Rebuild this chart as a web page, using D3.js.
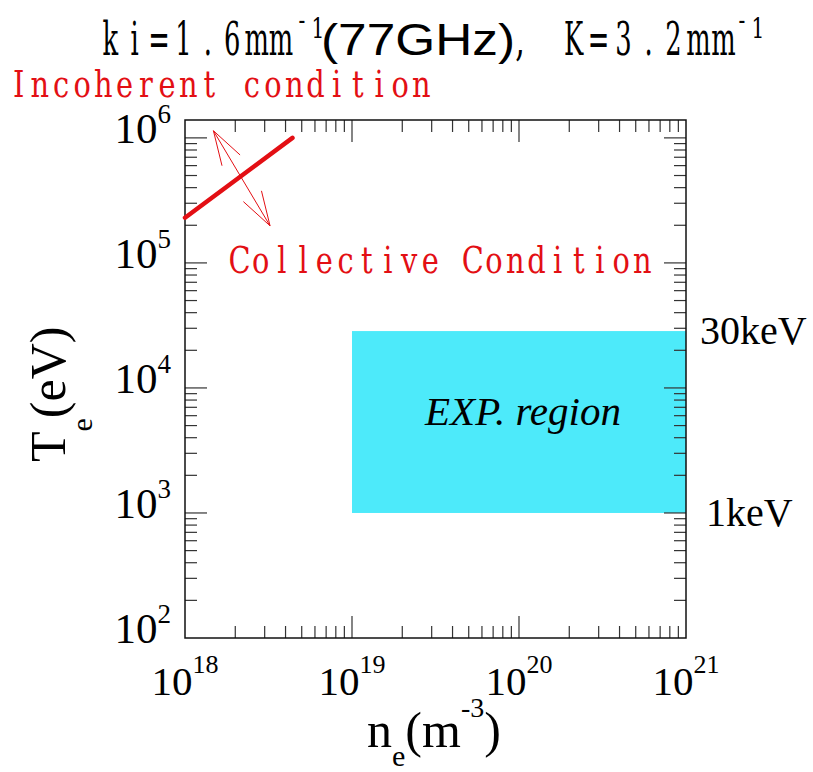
<!DOCTYPE html>
<html><head><meta charset="utf-8">
<script src="https://cdn.jsdelivr.net/npm/d3@7/dist/d3.min.js"></script>
<style>body{margin:0;background:#fff}</style>
</head><body>
<svg id="c" width="813" height="772"></svg>
<script>
// ---- data ----
const xDomain = [1e18, 1e21];
const yDomain = [1e2, 1.39e6];
const xMajorTicks = [1e18, 1e19, 1e20, 1e21];
const xTickExps = ["18", "19", "20", "21"];
const yMajorTicks = [1e2, 1e3, 1e4, 1e5, 1e6];
const yTickExps = ["2", "3", "4", "5", "6"];
const boundaryLine = [[1e18, 2.3e5], [4.4e18, 1.0e6]];
const arrowEnds = [[1.48e18, 1.14e6], [3.23e18, 1.98e5]];
const expN = [1e19, 1e21];
const expT = [1e3, 2.85e4];
const rightLabelValues = [2.85e4, 1e3];
const rightLabelTexts = ["30keV", "1keV"];

// ---- layout ----
const L = 185, R = 686, T = 120, B = 638;
const RED = "#e30f14", CYAN = "#4deafa";
const SERIF = "'Liberation Serif','Times New Roman',serif";
const MINCHO = "'DejaVu Serif','Liberation Serif',serif";
const SANS = "'Liberation Sans',Arial,sans-serif";

const svg = d3.select("#c");
const x = d3.scaleLog().domain(xDomain).range([L, R]);
const y = d3.scaleLog().domain(yDomain).range([B, T]);

// EXP region
svg.append("rect")
  .attr("x", x(expN[0])).attr("y", y(expT[1]))
  .attr("width", x(expN[1]) - x(expN[0])).attr("height", y(expT[0]) - y(expT[1]))
  .attr("fill", CYAN);

// ticks
const isMajor = v => Math.abs(Math.log10(v) - Math.round(Math.log10(v))) < 1e-9;
const tg = svg.append("g").attr("stroke", "#333").attr("stroke-width", 1.2);
x.ticks().forEach(v => {
  const px = x(v);
  if (px <= L + 0.5 || px >= R - 0.5) return;
  const len = isMajor(v) ? 22 : 12;
  tg.append("line").attr("x1", px).attr("x2", px).attr("y1", B).attr("y2", B - len);
  tg.append("line").attr("x1", px).attr("x2", px).attr("y1", T).attr("y2", T + len);
});
y.ticks().forEach(v => {
  const py = y(v);
  if (py >= B - 0.5 || py <= T + 0.5) return;
  const len = isMajor(v) ? 22 : 12;
  tg.append("line").attr("y1", py).attr("y2", py).attr("x1", L).attr("x2", L + len);
  tg.append("line").attr("y1", py).attr("y2", py).attr("x1", R).attr("x2", R - len);
});

// frame
svg.append("rect").attr("x", L).attr("y", T).attr("width", R - L).attr("height", B - T)
  .attr("fill", "none").attr("stroke", "#111").attr("stroke-width", 1.5);

// tick labels
yMajorTicks.forEach((v, i) => {
  const t = svg.append("text").attr("x", 171).attr("y", y(v) + 5)
    .attr("text-anchor", "end").style("font-family", SERIF).style("font-size", "43px").attr("fill", "#000");
  t.append("tspan").text("10");
  t.append("tspan").attr("dy", -20).style("font-size", "27px").text(yTickExps[i]);
});
xMajorTicks.forEach((v, i) => {
  const t = svg.append("text").attr("x", x(v)).attr("y", 695)
    .attr("text-anchor", "middle").style("font-family", SERIF).style("font-size", "41px").attr("fill", "#000");
  t.append("tspan").text("10");
  t.append("tspan").attr("dy", -22).style("font-size", "26px").text(xTickExps[i]);
});

// axis titles
const xt = svg.append("text").attr("x", 367).attr("y", 747)
  .style("font-family", SERIF).style("font-size", "50px").attr("fill", "#000");
xt.append("tspan").text("n");
xt.append("tspan").attr("dy", 19).style("font-size", "30px").text("e");
xt.append("tspan").attr("dy", -19).text("(m");
xt.append("tspan").attr("dy", -30).style("font-size", "28px").text("-3");
xt.append("tspan").attr("dy", 30).text(")");

const yt = svg.append("text").attr("transform", "translate(65,462) rotate(-90)")
  .style("font-family", SERIF).style("font-size", "50px").attr("fill", "#000");
yt.append("tspan").text("T");
yt.append("tspan").attr("dy", 27).style("font-size", "30px").text("e");
yt.append("tspan").attr("dy", -27).text("(eV)");

// right labels
rightLabelValues.forEach((v, i) => {
  svg.append("text").attr("x", i === 0 ? 700 : 706).attr("y", y(v) + 13)
    .style("font-family", SERIF).style("font-size", "40px").attr("fill", "#000")
    .text(rightLabelTexts[i]);
});

// EXP label
svg.append("text").attr("x", (x(expN[0]) + x(expN[1])) / 2 + 4).attr("y", 425)
  .attr("text-anchor", "middle").style("font-family", SERIF).style("font-style", "italic")
  .style("font-size", "41px").attr("fill", "#000").text("EXP. region");

// boundary line
const line = d3.line().x(d => x(d[0])).y(d => y(d[1]));
svg.append("path").datum(boundaryLine).attr("d", line)
  .attr("fill", "none").attr("stroke", RED).attr("stroke-width", 4.5).attr("stroke-linecap", "round");

// double arrow
const p0 = [x(arrowEnds[0][0]), y(arrowEnds[0][1])];
const p1 = [x(arrowEnds[1][0]), y(arrowEnds[1][1])];
const ag = svg.append("g").attr("stroke", RED).attr("stroke-width", 1).attr("fill", "none");
ag.append("line").attr("x1", p0[0]).attr("y1", p0[1]).attr("x2", p1[0]).attr("y2", p1[1]);
function head(tip, from) {
  const a = Math.atan2(from[1] - tip[1], from[0] - tip[0]);
  const len = 36, da = 17 * Math.PI / 180;
  [a - da, a + da].forEach(b => {
    ag.append("line").attr("x1", tip[0]).attr("y1", tip[1])
      .attr("x2", tip[0] + len * Math.cos(b)).attr("y2", tip[1] + len * Math.sin(b));
  });
}
head(p0, p1); head(p1, p0);

// fixed-pitch serif text (mincho-like)
function pitched(str, x0, pitch, baseline, fs, sx, fill, dys) {
  const xs = [...str].map((c, i) => ((x0 + (i + 0.5) * pitch) / sx).toFixed(2));
  const t = svg.append("text")
    .attr("transform", `translate(0,${baseline}) scale(${sx},1)`)
    .attr("x", xs.join(" ")).attr("y", 0)
    .attr("text-anchor", "middle")
    .style("font-family", MINCHO).style("font-size", fs + "px").attr("fill", fill)
    .text(str);
  if (dys) t.attr("dy", dys);
  return t;
}

// title
pitched("ki=1.6mm", 98, 24.4, 55, 46, 0.56, "#000");
pitched("-1", 294, 16, 38, 28, 0.72, "#000", "-9 9");
svg.append("text").attr("x", 321).attr("y", 55)
  .attr("textLength", 194).attr("lengthAdjust", "spacingAndGlyphs")
  .style("font-family", SANS).style("font-size", "44px").attr("fill", "#000").text("(77GHz)");
pitched(",", 510, 20, 55, 46, 0.65, "#000");
pitched("K=3.2mm", 561, 25, 55, 46, 0.56, "#000");
pitched("-1", 734, 16, 38, 28, 0.72, "#000", "-9 9");

// red annotations
pitched("Incoherent condition", 8, 21.2, 97, 38, 0.76, RED);
pitched("Collective Condition", 229, 21.2, 273, 38, 0.76, RED);
</script>
</body></html>
